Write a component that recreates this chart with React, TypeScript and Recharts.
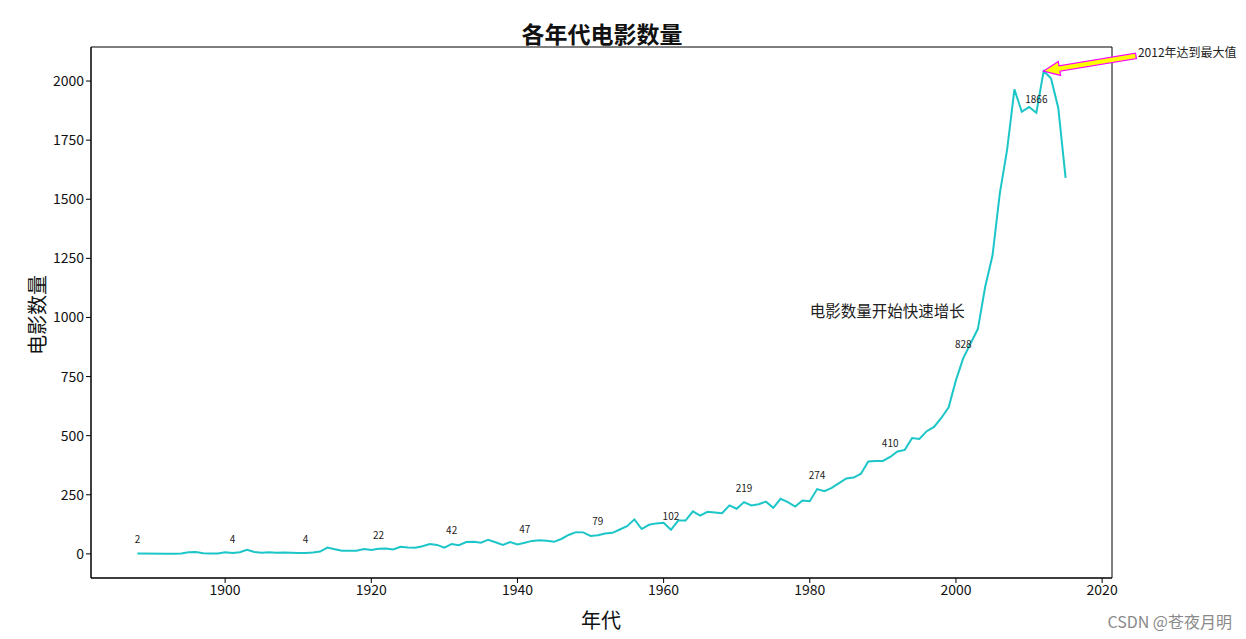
import React from 'react';
import { LineChart, Line, XAxis, YAxis, ReferenceArea, ReferenceLine, ReferenceDot, LabelList } from 'recharts';

const years = [
  1888,
  1892, 1893, 1894, 1895, 1896, 1897, 1898, 1899, 1900,
  1901, 1902, 1903, 1904, 1905, 1906, 1907, 1908, 1909, 1910,
  1911, 1912, 1913, 1914, 1915, 1916, 1917, 1918, 1919, 1920,
  1921, 1922, 1923, 1924, 1925, 1926, 1927, 1928, 1929, 1930,
  1931, 1932, 1933, 1934, 1935, 1936, 1937, 1938, 1939, 1940,
  1941, 1942, 1943, 1944, 1945, 1946, 1947, 1948, 1949, 1950,
  1951, 1952, 1953, 1954, 1955, 1956, 1957, 1958, 1959, 1960,
  1961, 1962, 1963, 1964, 1965, 1966, 1967, 1968, 1969, 1970,
  1971, 1972, 1973, 1974, 1975, 1976, 1977, 1978, 1979, 1980,
  1981, 1982, 1983, 1984, 1985, 1986, 1987, 1988, 1989, 1990,
  1991, 1992, 1993, 1994, 1995, 1996, 1997, 1998, 1999, 2000,
  2001, 2002, 2003, 2004, 2005, 2006, 2007, 2008, 2009, 2010,
  2011, 2012, 2013, 2014, 2015,
];

const counts = [
  2,
  1, 1, 2, 7, 8, 3, 2, 2, 7,
  4, 7, 17, 8, 5, 7, 5, 6, 5, 4,
  4, 6, 10, 27, 20, 13, 13, 13, 21, 16,
  22, 23, 19, 30, 27, 26, 32, 42, 38, 26,
  42, 37, 50, 51, 47, 60, 49, 38, 50, 40,
  47, 55, 58, 56, 51, 63, 80, 92, 91, 76,
  79, 86, 89, 103, 117, 146, 105, 123, 129, 132,
  102, 141, 141, 180, 162, 178, 175, 172, 205, 191,
  219, 205, 210, 221, 195, 233, 219, 200, 226, 223,
  274, 265, 279, 299, 319, 323, 339, 391, 393, 393,
  410, 433, 440, 490, 486, 519, 537, 575, 620, 735,
  828, 890, 952, 1130, 1262, 1525, 1710, 1965, 1870, 1890,
  1866, 2042, 2012, 1886, 1590,
];

const xTicks = [1900, 1920, 1940, 1960, 1980, 2000, 2020];
const yTicks = [0, 250, 500, 750, 1000, 1250, 1500, 1750, 2000];

const X_DOMAIN: [number, number] = [1881.65, 2021.35];
const Y_DOMAIN: [number, number] = [-102, 2144];

const peakYear = 2012;
const peakValue = 2042;
const peakText = '2012年达到最大值';
const peakTextPos = { x: 2024.9, y: 2100 };
const growthText = '电影数量开始快速增长';
const growthTextPos = { x: 1980, y: 1000 };

const data = years.map((y, i) => ({ year: y, count: counts[i], lbl: i % 10 === 0 ? counts[i] : null }));

const CJK = '"Noto Sans CJK SC", "Noto Sans", sans-serif';
const LINE_COLOR = '#1cc6c8';

const renderPointLabel = (props: any) => {
  const { x, y, value } = props;
  if (value === null || value === undefined) return null;
  return (
    <text x={x} y={y - 10} textAnchor="middle" fontSize={10} fill="#222" fontFamily={CJK}>
      {value}
    </text>
  );
};

const ArrowShape = (props: any) => {
  const { x1, y1, x2, y2 } = props;
  const tx = x1, ty = y1;
  const sx = x2 - 2, sy = y2 - 1.5;
  const dx = sx - tx, dy = sy - ty;
  const len = Math.sqrt(dx * dx + dy * dy);
  const ux = dx / len, uy = dy / len;
  const nx = -uy, ny = ux;
  const hl = 16, hw = 14, sw = 5.5;
  const bx = tx + ux * hl, by = ty + uy * hl;
  const pts = [
    [tx, ty],
    [bx + nx * hw / 2, by + ny * hw / 2],
    [bx + nx * sw / 2, by + ny * sw / 2],
    [sx + nx * sw / 2, sy + ny * sw / 2],
    [sx - nx * sw / 2, sy - ny * sw / 2],
    [bx - nx * sw / 2, by - ny * sw / 2],
    [bx - nx * hw / 2, by - ny * hw / 2],
  ].map((p) => p.join(',')).join(' ');
  return (
    <g>
      <polygon points={pts} fill="#ffff00" stroke="#ff00ff" strokeWidth={1.2} />
      <text x={x2} y={y2} fontSize={12} fill="#222" fontFamily={CJK}>{peakText}</text>
    </g>
  );
};

const GrowthText = (props: any) => {
  const { cx, cy } = props;
  return (
    <text x={cx} y={cy} fontSize={15.5} fill="#222" fontFamily={CJK}>{growthText}</text>
  );
};

export default function App() {
  return (
    <div style={{ position: 'absolute', left: 0, top: 0, width: 1246, height: 639, background: '#fff' }}>
      <LineChart
        width={1246}
        height={639}
        data={data}
        margin={{ top: 47, right: 134, bottom: 31, left: 31 }}
      >
        <XAxis
          dataKey="year"
          type="number"
          domain={X_DOMAIN}
          allowDataOverflow
          ticks={xTicks}
          interval={0}
          height={30}
          tickSize={5}
          tick={{ fontSize: 14, fill: '#111', fontFamily: CJK }}
          stroke="#000"
          tickLine={{ stroke: '#000' }}
        />
        <YAxis
          type="number"
          domain={Y_DOMAIN}
          allowDataOverflow
          ticks={yTicks}
          interval={0}
          width={60}
          tickSize={5}
          tick={{ fontSize: 14, fill: '#111', fontFamily: CJK }}
          stroke="#000"
          tickLine={{ stroke: '#000' }}
        />
        <ReferenceArea
          x1={X_DOMAIN[0]}
          x2={X_DOMAIN[1]}
          y1={Y_DOMAIN[0]}
          y2={Y_DOMAIN[1]}
          fill="none"
          fillOpacity={0}
          stroke="#000"
          strokeWidth={1}
          ifOverflow="visible"
        />
        <Line
          dataKey="count"
          stroke={LINE_COLOR}
          strokeWidth={2}
          dot={false}
          activeDot={false}
          isAnimationActive={false}
          type="linear"
        >
          <LabelList dataKey="lbl" content={renderPointLabel} />
        </Line>
        <ReferenceDot
          x={growthTextPos.x}
          y={growthTextPos.y}
          r={0}
          ifOverflow="visible"
          shape={GrowthText}
        />
        <ReferenceLine
          segment={[{ x: peakYear, y: peakValue }, { x: peakTextPos.x, y: peakTextPos.y }]}
          ifOverflow="visible"
          shape={ArrowShape}
        />
      </LineChart>
      <svg width={1246} height={639} style={{ position: 'absolute', left: 0, top: 0, pointerEvents: 'none' }}>
        <text x={602} y={33} textAnchor="middle" dominantBaseline="central" fontSize={23} fontWeight="bold" fill="#111" fontFamily={CJK}>
          各年代电影数量
        </text>
        <text x={601} y={619} textAnchor="middle" dominantBaseline="central" fontSize={20} fill="#111" fontFamily={CJK}>
          年代
        </text>
        <text x={36} y={315} textAnchor="middle" dominantBaseline="central" fontSize={20} fill="#111" fontFamily={CJK} transform="rotate(-90 36 315)">
          电影数量
        </text>
        <text x={1232} y={621} textAnchor="end" dominantBaseline="central" fontSize={16} fill="#8a8a8a" fontFamily={CJK}>
          CSDN @苍夜月明
        </text>
      </svg>
    </div>
  );
}
